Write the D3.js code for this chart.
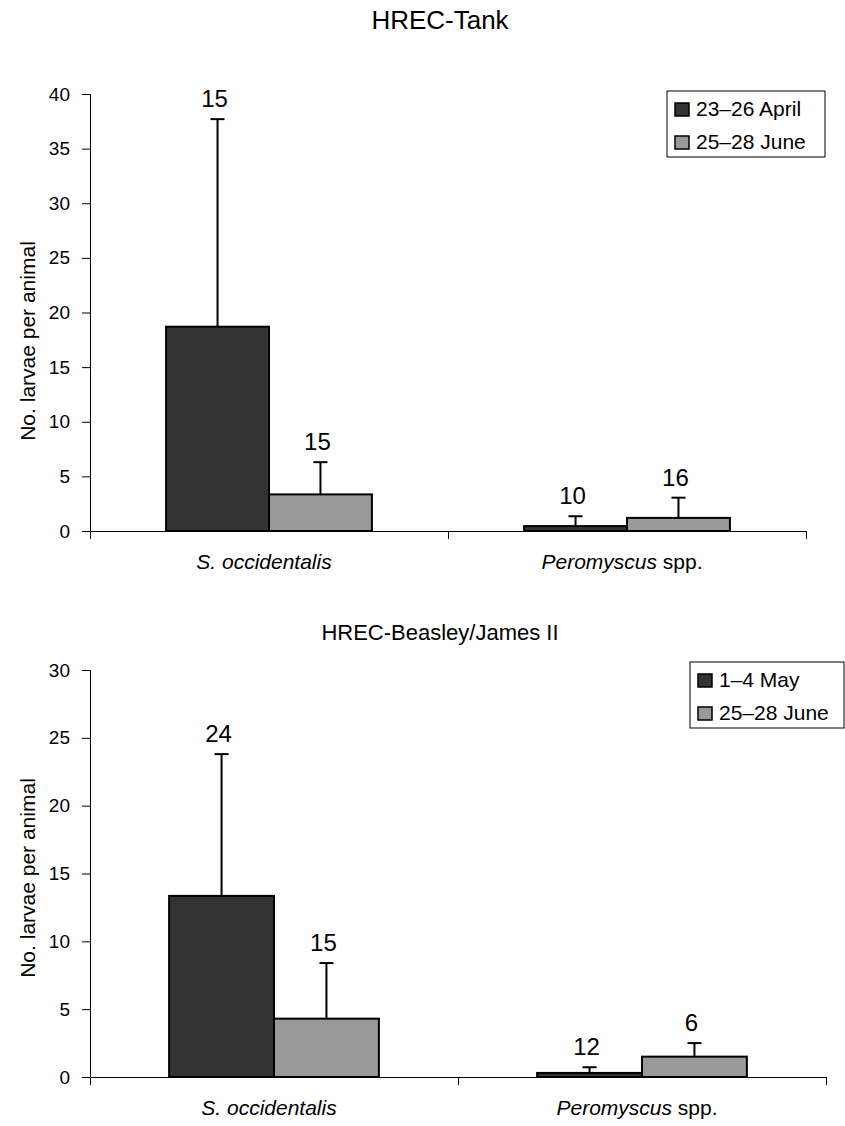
<!DOCTYPE html>
<html>
<head>
<meta charset="utf-8">
<script src="https://cdn.jsdelivr.net/npm/d3@7"></script>
<style>
  body { margin: 0; background: #fff; }
  svg { font-family: "Liberation Sans", Arial, sans-serif; }
  .axis path, .axis line { stroke: #000; }
  .axis text { font-size: 19px; fill: #000; }
</style>
</head>
<body>
<svg id="chart" width="845" height="1126"></svg>
<script>
// categories shared by both panels
const categories = ['S. occidentalis', 'Peromyscus spp.'];

// HREC-Tank
const tankSeries = ['23–26 April', '25–28 June'];
const tankApril = [18.7, 0.45];
const tankJune = [3.35, 1.2];
const tankAprilErr = [19.0, 0.9];
const tankJuneErr = [2.95, 1.85];
const tankAprilN = [15, 10];
const tankJuneN = [15, 16];
const tankTicks = [0, 5, 10, 15, 20, 25, 30, 35, 40];

// HREC-Beasley/James II
const beasleySeries = ['1–4 May', '25–28 June'];
const beasleyMay = [13.35, 0.3];
const beasleyJune = [4.3, 1.5];
const beasleyMayErr = [10.45, 0.42];
const beasleyJuneErr = [4.1, 1.0];
const beasleyMayN = [24, 12];
const beasleyJuneN = [15, 6];
const beasleyTicks = [0, 5, 10, 15, 20, 25, 30];

const colors = ['#333333', '#999999'];

const svg = d3.select('#chart');

function drawPanel(p){
    const g = svg.append('g');

    //scales
    const x = d3.scaleBand().domain(categories).range([p.left, p.right]);
    const groupW = x.bandwidth() * p.groupFrac;
    const x1 = d3.scaleBand().domain(p.series).range([0, groupW]);
    const y = d3.scaleLinear().domain([0, d3.max(p.ticks)]).range([p.bottom, p.top]);

    //title
    g.append('text')
        .attr('x', 440)
        .attr('y', p.titleY)
        .attr('text-anchor', 'middle')
        .style('font-size', p.titleSize + 'px')
        .text(p.title);

    //y axis
    g.append('g')
        .attr('class', 'axis')
        .attr('transform', `translate(${p.left},0)`)
        .call(d3.axisLeft(y).tickValues(p.ticks).tickSize(8).tickPadding(12))
        .call(a => a.selectAll('.tick line').attr('stroke', '#555'));

    //x axis with boundary ticks between categories
    const xEdge = d3.scaleLinear().domain([0, categories.length]).range([p.left, p.right]);
    g.append('g')
        .attr('class', 'axis')
        .attr('transform', `translate(0,${p.bottom})`)
        .call(d3.axisBottom(xEdge).tickValues(d3.range(categories.length + 1))
            .tickFormat('').tickSizeInner(8).tickSizeOuter(0))
        .call(a => a.select('.domain').attr('stroke', '#444'));

    //category labels (genus italic, "spp." upright)
    categories.forEach(c => {
        const t = g.append('text')
            .attr('x', x(c) + x.bandwidth() / 2 - 5)
            .attr('y', p.bottom + 38)
            .attr('text-anchor', 'middle')
            .style('font-size', '21px');
        const parts = c.split(' spp.');
        t.append('tspan').style('font-style', 'italic').text(parts[0]);
        if(parts.length > 1) t.append('tspan').text(' spp.');
    });

    //y label
    g.append('text')
        .attr('transform', `translate(35,${p.labelY}) rotate(-90)`)
        .attr('text-anchor', 'middle')
        .style('font-size', '21px')
        .text('No. larvae per animal');

    //bars, error bars and sample sizes
    const rows = [];
    p.series.forEach((s, si) => {
        categories.forEach((c, ci) => {
            rows.push({ s: s, si: si, c: c,
                v: p.values[si][ci], e: p.errors[si][ci], n: p.ns[si][ci] });
        });
    });
    const bx = d => x(d.c) + (x.bandwidth() - groupW) / 2 + x1(d.s);

    g.selectAll('rect.bar')
        .data(rows)
        .join('rect')
        .attr('class', 'bar')
        .attr('x', bx)
        .attr('y', d => y(d.v))
        .attr('width', x1.bandwidth())
        .attr('height', d => y(0) - y(d.v))
        .attr('fill', d => colors[d.si])
        .attr('stroke', '#000')
        .attr('stroke-width', 2);

    const err = g.selectAll('g.err')
        .data(rows)
        .join('g')
        .attr('class', 'err')
        .attr('transform', d => `translate(${bx(d) + x1.bandwidth() / 2},0)`);
    err.append('line')
        .attr('y1', d => y(d.v))
        .attr('y2', d => y(d.v + d.e))
        .attr('stroke', '#000').attr('stroke-width', 2);
    err.append('line')
        .attr('x1', -7).attr('x2', 7)
        .attr('y1', d => y(d.v + d.e))
        .attr('y2', d => y(d.v + d.e))
        .attr('stroke', '#000').attr('stroke-width', 2);
    err.append('text')
        .attr('x', -3)
        .attr('y', d => y(d.v + d.e) - 12)
        .attr('text-anchor', 'middle')
        .style('font-size', '24px')
        .text(d => d.n);

    //legend
    const lg = g.append('g').attr('transform', `translate(${p.legend.x},${p.legend.y})`);
    lg.append('rect')
        .attr('width', p.legend.w).attr('height', 66)
        .attr('fill', '#fff').attr('stroke', '#000');
    p.series.forEach((s, i) => {
        const row = lg.append('g').attr('transform', `translate(8,${12 + i * 33})`);
        row.append('rect')
            .attr('width', 14).attr('height', 13)
            .attr('fill', colors[i]).attr('stroke', '#000').attr('stroke-width', 1.5);
        row.append('text')
            .attr('x', 21).attr('y', 13)
            .style('font-size', '21px')
            .text(s);
    });
}

drawPanel({
    title: 'HREC-Tank', titleY: 29, titleSize: 26,
    left: 90, right: 806, top: 94, bottom: 531, groupFrac: 0.575,
    ticks: tankTicks, series: tankSeries,
    values: [tankApril, tankJune], errors: [tankAprilErr, tankJuneErr], ns: [tankAprilN, tankJuneN],
    labelY: 341,
    legend: { x: 667, y: 91, w: 158 }
});

drawPanel({
    title: 'HREC-Beasley/James II', titleY: 640, titleSize: 22,
    left: 90, right: 826, top: 670, bottom: 1077, groupFrac: 0.57,
    ticks: beasleyTicks, series: beasleySeries,
    values: [beasleyMay, beasleyJune], errors: [beasleyMayErr, beasleyJuneErr], ns: [beasleyMayN, beasleyJuneN],
    labelY: 878,
    legend: { x: 690, y: 662, w: 154 }
});
</script>
</body>
</html>
